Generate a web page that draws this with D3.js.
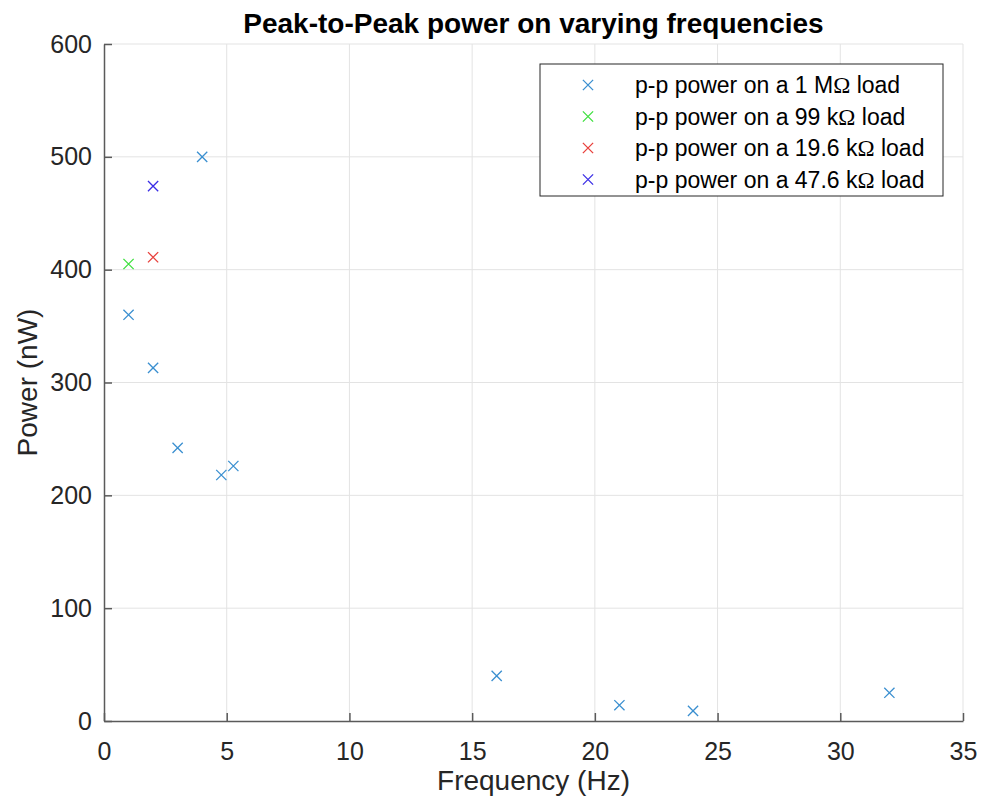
<!DOCTYPE html>
<html>
<head>
<meta charset="utf-8">
<script src="https://cdn.jsdelivr.net/npm/d3@7"></script>
<style>
  body { margin: 0; background: #fff; }
  svg { font-family: "Liberation Sans", Arial, sans-serif; }
</style>
</head>
<body>
<div id="chart"></div>
<script>
// data
const load1M_freq  = [1, 2, 3, 4, 4.78, 5.27, 16, 21, 24, 32];
const load1M_power = [360, 313, 242, 500, 218, 226, 40, 14, 9, 25];
const load99k_freq  = [1];
const load99k_power = [405];
const load19k_freq  = [2];
const load19k_power = [411];
const load47k_freq  = [2];
const load47k_power = [474];

// legend text, split round the ohm sign (drawn in a serif face like matlab's tex)
const seriesPre = ["p-p power on a 1 M", "p-p power on a 99 k", "p-p power on a 19.6 k", "p-p power on a 47.6 k"];
const seriesColors = ["#3a8fd0", "#3ee03e", "#e8403c", "#3b2ee6"];
const xTicks = [0, 5, 10, 15, 20, 25, 30, 35];
const yTicks = [0, 100, 200, 300, 400, 500, 600];

const series = [
  {freq: load1M_freq, power: load1M_power},
  {freq: load99k_freq, power: load99k_power},
  {freq: load19k_freq, power: load19k_power},
  {freq: load47k_freq, power: load47k_power}
].map((s, i) => ({
  pre: seriesPre[i],
  color: seriesColors[i],
  points: s.freq.map((f, j) => ({x: f, y: s.power[j]}))
}));

var W = 982, H = 806;
var margin = {top: 44, right: 19, bottom: 85, left: 104},
    width = W - margin.left - margin.right,
    height = H - margin.top - margin.bottom;

var svg = d3.select("#chart").append("svg")
    .attr("width", W).attr("height", H);
var g = svg.append("g")
    .attr("transform", "translate(" + margin.left + "," + margin.top + ")");

var x = d3.scaleLinear().domain([0, 35]).range([0, width]);
var y = d3.scaleLinear().domain([0, 600]).range([height, 0]);

// grid
g.append("g").selectAll("line").data(xTicks.slice(1)).enter().append("line")
  .attr("x1", d => x(d)).attr("x2", d => x(d))
  .attr("y1", 0).attr("y2", height)
  .attr("stroke", "#e3e3e3").attr("stroke-width", 1);
g.append("g").selectAll("line").data(yTicks.slice(1)).enter().append("line")
  .attr("x1", 0).attr("x2", width)
  .attr("y1", d => y(d)).attr("y2", d => y(d))
  .attr("stroke", "#e3e3e3").attr("stroke-width", 1);

// axes (ticks pointing inward like matlab)
var xAxis = g.append("g")
  .attr("transform", "translate(0," + height + ")")
  .call(d3.axisBottom(x).tickValues(xTicks).tickSizeInner(-8).tickSizeOuter(0).tickPadding(21));
var yAxis = g.append("g")
  .call(d3.axisLeft(y).tickValues(yTicks).tickSizeInner(-8).tickSizeOuter(0).tickPadding(12));

[xAxis, yAxis].forEach(a => {
  a.select(".domain").attr("stroke", "#5a5a5a").attr("stroke-width", 1.5);
  a.selectAll(".tick line").attr("stroke", "#5a5a5a").attr("stroke-width", 1.5);
  a.selectAll(".tick text")
    .attr("fill", "#262626")
    .style("font-size", "25px")
    .style("font-family", "'Liberation Sans', Arial, sans-serif");
});

// markers
var cross = d3.symbol().type(d3.symbolX).size(70);
series.forEach(s => {
  g.append("g").selectAll("path").data(s.points).enter().append("path")
    .attr("d", cross)
    .attr("transform", d => "translate(" + x(d.x) + "," + y(d.y) + ")")
    .attr("fill", "none")
    .attr("stroke", s.color)
    .attr("stroke-width", 1.3);
});

// title + labels
svg.append("text")
  .attr("x", margin.left + width / 2).attr("y", 33)
  .attr("text-anchor", "middle")
  .style("font-size", "28px").style("font-weight", "bold")
  .attr("fill", "#000")
  .text("Peak-to-Peak power on varying frequencies");

svg.append("text")
  .attr("x", margin.left + width / 2).attr("y", 790)
  .attr("text-anchor", "middle")
  .style("font-size", "28px").attr("fill", "#262626")
  .text("Frequency (Hz)");

svg.append("text")
  .attr("transform", "translate(37," + (margin.top + height / 2) + ") rotate(-90)")
  .attr("text-anchor", "middle")
  .style("font-size", "28px").attr("fill", "#262626")
  .text("Power (nW)");

// legend
var legend = svg.append("g").attr("transform", "translate(540,64)");
legend.append("rect")
  .attr("width", 403).attr("height", 132)
  .attr("fill", "#fff").attr("stroke", "#262626").attr("stroke-width", 1);
series.forEach((s, i) => {
  var row = legend.append("g").attr("transform", "translate(0," + (21 + i * 31.5) + ")");
  row.append("path")
    .attr("d", cross)
    .attr("transform", "translate(48,0)")
    .attr("fill", "none").attr("stroke", s.color).attr("stroke-width", 1.3);
  var t = row.append("text")
    .attr("x", 95).attr("dy", "0.35em")
    .style("font-size", "23px").attr("fill", "#000");
  t.append("tspan").text(s.pre);
  t.append("tspan").style("font-family", "'Liberation Serif', serif").text("\u03A9");
  t.append("tspan").text(" load");
});
</script>
</body>
</html>
